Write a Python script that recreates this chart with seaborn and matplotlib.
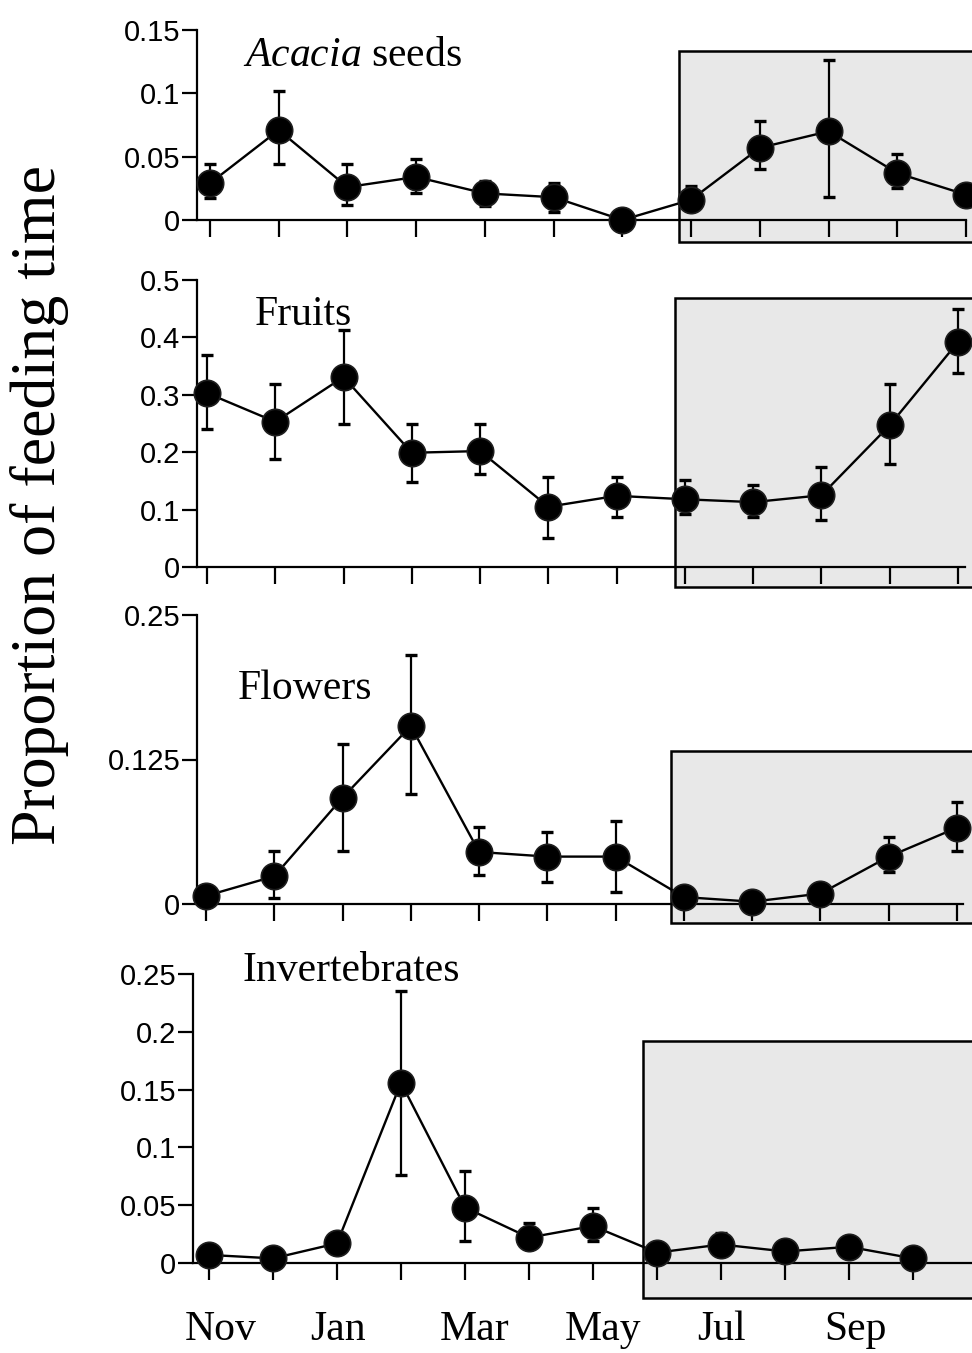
import numpy as np
import pandas as pd
import matplotlib
matplotlib.use("Agg")
import matplotlib.pyplot as plt
import matplotlib.transforms as mtransforms
import seaborn as sns
from matplotlib.patches import Rectangle

# ---------------- data ----------------
months = ["Nov", "Dec", "Jan", "Feb", "Mar", "Apr", "May", "Jun", "Jul", "Aug", "Sep", "Oct"]
month_labels = ["Nov", "", "Jan", "", "Mar", "", "May", "", "Jul", "", "Sep", ""]

acacia = [0.029, 0.071, 0.026, 0.034, 0.021, 0.018, 0.000, 0.016, 0.057, 0.070, 0.037, 0.020]
acacia_lo = [0.017, 0.044, 0.012, 0.021, 0.011, 0.006, 0.000, 0.011, 0.040, 0.018, 0.025, 0.020]
acacia_hi = [0.044, 0.102, 0.044, 0.048, 0.031, 0.029, 0.000, 0.027, 0.078, 0.126, 0.052, 0.020]

fruits = [0.303, 0.253, 0.331, 0.199, 0.202, 0.105, 0.124, 0.118, 0.113, 0.125, 0.247, 0.392]
fruits_lo = [0.240, 0.188, 0.249, 0.148, 0.162, 0.051, 0.087, 0.092, 0.087, 0.082, 0.179, 0.338]
fruits_hi = [0.369, 0.319, 0.413, 0.249, 0.249, 0.157, 0.157, 0.152, 0.143, 0.174, 0.319, 0.449]

flowers = [0.007, 0.024, 0.092, 0.154, 0.045, 0.041, 0.041, 0.006, 0.002, 0.009, 0.041, 0.066]
flowers_lo = [0.007, 0.005, 0.046, 0.095, 0.025, 0.019, 0.010, 0.006, 0.002, 0.009, 0.028, 0.046]
flowers_hi = [0.007, 0.046, 0.138, 0.215, 0.067, 0.062, 0.072, 0.006, 0.002, 0.009, 0.058, 0.088]

invert = [0.007, 0.004, 0.017, 0.156, 0.048, 0.022, 0.032, 0.009, 0.016, 0.010, 0.014, 0.004]
invert_lo = [0.007, 0.004, 0.012, 0.076, 0.019, 0.017, 0.019, 0.009, 0.010, 0.010, 0.014, 0.004]
invert_hi = [0.007, 0.004, 0.023, 0.235, 0.080, 0.035, 0.048, 0.009, 0.026, 0.010, 0.014, 0.004]

acacia_ticks = [0, 0.05, 0.1, 0.15]
acacia_ticklabels = ["0", "0.05", "0.1", "0.15"]
fruits_ticks = [0, 0.1, 0.2, 0.3, 0.4, 0.5]
fruits_ticklabels = ["0", "0.1", "0.2", "0.3", "0.4", "0.5"]
flowers_ticks = [0, 0.125, 0.25]
flowers_ticklabels = ["0", "0.125", "0.25"]
invert_ticks = [0, 0.05, 0.1, 0.15, 0.2, 0.25]
invert_ticklabels = ["0", "0.05", "0.1", "0.15", "0.2", "0.25"]

titles = [r"$\mathit{Acacia}$ seeds", "Fruits", "Flowers", "Invertebrates"]
ylabel = "Proportion of feeding time"

# ---------------- style ----------------
sns.set_theme(style="ticks")
plt.rcParams["font.family"] = ["Liberation Sans", "DejaVu Sans"]
plt.rcParams["mathtext.fontset"] = "custom"
plt.rcParams["mathtext.it"] = "Liberation Serif:italic"
plt.rcParams["mathtext.rm"] = "Liberation Serif"
plt.rcParams["text.color"] = "black"
plt.rcParams["axes.labelcolor"] = "black"
plt.rcParams["xtick.color"] = "black"
plt.rcParams["ytick.color"] = "black"
plt.rcParams["axes.edgecolor"] = "black"

W, H = 972, 1353
fig = plt.figure(figsize=(W / 100, H / 100), dpi=100)

# layout (pixels): axis-left, x of first month, x of last month, y of zero, y of top,
# axis end x, shaded box (left, bottom, top), title (x, baseline)
layouts = [
    dict(axl=197, x0=210, x11=966, y0=220, ytop=30, xend=966, box=(679, 242, 51), title=(243, 66)),
    dict(axl=197, x0=207, x11=958, y0=567, ytop=280, xend=965, box=(675, 587, 298), title=(255, 325)),
    dict(axl=197, x0=206, x11=957, y0=904, ytop=615, xend=963, box=(671, 923, 751), title=(238, 699)),
    dict(axl=193, x0=209, x11=913, y0=1263, ytop=974, xend=972, box=(643, 1298, 1041), title=(242, 981)),
]
label_shift_px = [12, 0, 1, 0, 10, 0, 10, 0, 0, 0, 6, 0]

series = [
    (acacia, acacia_lo, acacia_hi, 0.15, acacia_ticks, acacia_ticklabels),
    (fruits, fruits_lo, fruits_hi, 0.5, fruits_ticks, fruits_ticklabels),
    (flowers, flowers_lo, flowers_hi, 0.25, flowers_ticks, flowers_ticklabels),
    (invert, invert_lo, invert_hi, 0.25, invert_ticks, invert_ticklabels),
]

for i, (L, (vals, lo, hi, ymax, yt, ytl)) in enumerate(zip(layouts, series)):
    ax = fig.add_axes([L["axl"] / W, 1 - L["y0"] / H, 1 - L["axl"] / W,
                       (L["y0"] - L["ytop"]) / H])
    ax.set_facecolor("none")
    sx = (L["x11"] - L["x0"]) / 11.0
    sy = (L["y0"] - L["ytop"]) / ymax
    xl = (L["axl"] - L["x0"]) / sx
    xr = (W - L["x0"]) / sx
    ax.set_xlim(xl, xr)
    ax.set_ylim(0, ymax)

    # shaded season box
    bl, bb, bt = L["box"]
    bx = (bl - L["x0"]) / sx
    by0 = -(bb - L["y0"]) / sy
    by1 = (L["y0"] - bt) / sy
    ax.add_patch(Rectangle((bx, by0), xr + 2 - bx, by1 - by0, facecolor="#e8e8e8",
                           edgecolor="black", lw=1.8, zorder=0.5, clip_on=False))

    df = pd.DataFrame({"idx": np.arange(12), "value": vals, "month": months})
    v = np.array(vals)
    yerr = [v - np.array(lo), np.array(hi) - v]
    ax.errorbar(df["idx"], v, yerr=yerr, fmt="none", ecolor="black", elinewidth=1.6,
                capsize=4.5, capthick=2.4, zorder=3)
    sns.lineplot(data=df, x="idx", y="value", ax=ax, color="black", lw=1.7,
                 marker="o", markersize=19, markerfacecolor="black",
                 markeredgecolor="#1e1e1e", markeredgewidth=1.2, zorder=4)

    for art in ax.get_children():
        try:
            art.set_clip_on(False)
        except Exception:
            pass

    sns.despine(ax=ax, top=True, right=True)
    ax.spines["left"].set_linewidth(1.6)
    ax.spines["bottom"].set_linewidth(1.6)
    ax.spines["left"].set_bounds(0, ymax)
    ax.spines["bottom"].set_bounds(xl, (L["xend"] - L["x0"]) / sx)
    ax.spines["left"].set_zorder(2.5)
    ax.spines["bottom"].set_zorder(2.5)

    ax.set_yticks(yt)
    ax.set_yticklabels(ytl)
    ax.set_xticks(np.arange(12))
    ax.tick_params(axis="y", direction="out", length=11, width=1.6, pad=1,
                   labelsize=21, colors="black")
    ax.tick_params(axis="x", direction="out", length=12, width=1.6, colors="black")
    if i == 3:
        ax.set_xticklabels(month_labels, fontsize=30, family="Liberation Serif")
        ax.tick_params(axis="x", pad=22)
        for lab, dx in zip(ax.get_xticklabels(), label_shift_px):
            lab.set_transform(lab.get_transform() +
                              mtransforms.ScaledTranslation(dx / 100, 0, fig.dpi_scale_trans))
    else:
        ax.set_xticklabels([])
    ax.set_xlabel("")
    ax.set_ylabel("")
    ax.grid(False)

    tx, tb = L["title"]
    fig.text(tx / W, 1 - tb / H, titles[i], fontsize=30, family="Liberation Serif",
             ha="left", va="baseline", color="black")

fig.text(40 / W, 1 - 505 / H, ylabel, rotation=90, fontsize=46,
         family="Liberation Serif", ha="center", va="center", color="black")

fig.savefig("out.png", dpi=100)
